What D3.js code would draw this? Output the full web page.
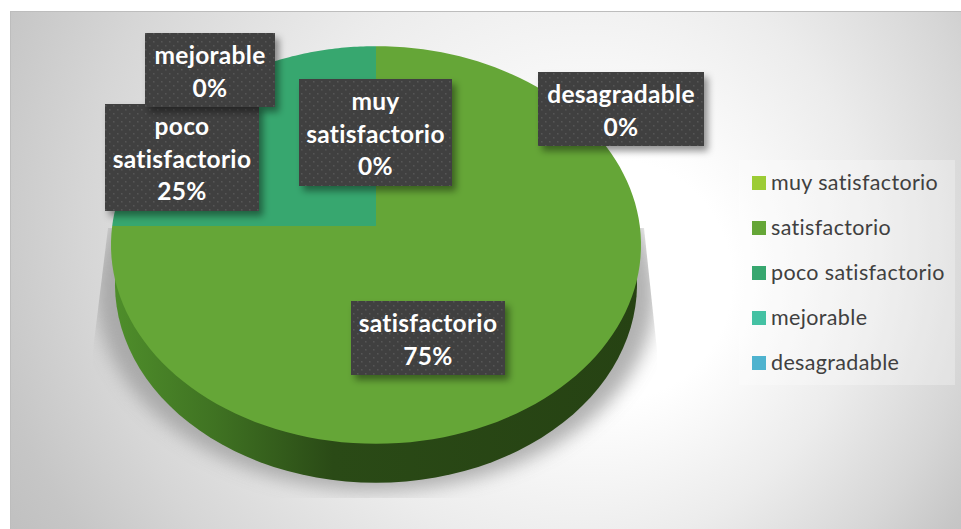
<!DOCTYPE html>
<html><head><meta charset="utf-8">
<script src="https://cdn.jsdelivr.net/npm/d3@7"></script>
<style>html,body{margin:0;padding:0;background:#fff;overflow:hidden}svg{display:block}</style>
</head><body><svg id="c" width="961" height="529"></svg>
<script>
const categories = ["muy satisfactorio","satisfactorio","poco satisfactorio","mejorable","desagradable"];
const shares = [0, 75, 25, 0, 0];
const colours = ["#9ccc35","#65a637","#37a76f","#44c1a3","#4eb3cf"];

const svg = d3.select("#c");
const defs = svg.append("defs");

// Tilted-disc projection: unit circle to screen
const cx = 376, cy = 226, k = 0.0955, ay = 197, bx = 263.8, depth = 39;
const project = (a, r = 1) => {
  const x = Math.sin(a) * r, y = -Math.cos(a) * r, f = 1 / (1 - k * y);
  return [cx + bx * x * f, cy + ay * y * f];
};
const rimPoints = (a0, a1) => d3.range(0, 121).map(i => project(a0 + (a1 - a0) * i / 120));
const line = d3.line();

// Chart panel background
const bg = defs.append("radialGradient").attr("id","bg").attr("gradientUnits","userSpaceOnUse")
  .attr("cx",500).attr("cy",200).attr("r",600).attr("fx",640).attr("fy",300);
[[0,"#ffffff"],[0.2,"#ffffff"],[0.5,"#ececec"],[0.75,"#d6d6d6"],[0.9,"#c6c6c6"],[1,"#bfbfbf"]].forEach(s=>bg.append("stop").attr("offset",s[0]).attr("stop-color",s[1]));
svg.append("rect").attr("x",10.5).attr("y",11.5).attr("width",951).attr("height",518)
  .attr("fill","url(#bg)").attr("stroke","#bdbdbd").attr("stroke-width",1);

// Soft floor shadow
defs.append("filter").attr("id","soft").attr("x","-20%").attr("y","-20%").attr("width","140%").attr("height","140%")
  .append("feGaussianBlur").attr("stdDeviation",9);
defs.append("clipPath").attr("id","floor").append("path").attr("d","M108,228L93,350L90,498L660,498L657,350L644,228Z");
svg.append("g").attr("clip-path","url(#floor)").append("path")
  .attr("d", line(rimPoints(0, 2*Math.PI).map(p=>[cx+(p[0]-cx)*1.055, p[1]+depth+8]))+"Z")
  .attr("fill","#9c9c9c").attr("opacity",0.78).attr("filter","url(#soft)");

// Rim of the disc
const side = defs.append("linearGradient").attr("id","side").attr("gradientUnits","userSpaceOnUse")
  .attr("x1",110).attr("x2",641).attr("y1",0).attr("y2",0);
[[0,"#4f8f2b"],[0.2,"#3f7222"],[0.42,"#2a4a16"],[1,"#264213"]].forEach(s=>side.append("stop").attr("offset",s[0]).attr("stop-color",s[1]));
svg.append("path")
  .attr("d", line(rimPoints(0, 2*Math.PI).map(p=>[cx+(p[0]-cx)*0.985,p[1]+depth]))+"Z")
  .attr("fill","url(#side)");

// Top face, built from d3.pie angles
const arcs = d3.pie().sort(null).value(d=>d)(shares);
svg.append("g").selectAll("path").data(arcs.filter(d=>d.value>0)).join("path")
  .attr("d", d => line([[cx,cy], ...rimPoints(d.startAngle, d.endAngle)])+"Z")
  .attr("fill", d => colours[d.index]);

// Legend
const legend = svg.append("g");
legend.append("rect").attr("x",739).attr("y",160).attr("width",216).attr("height",225).attr("fill","#fff").attr("fill-opacity",0.28);
const legendY = d3.scalePoint().domain(categories).range([183,363]);
categories.forEach((c,i)=>{
  legend.append("rect").attr("x",752).attr("y",legendY(c)-7).attr("width",14).attr("height",14).attr("fill",colours[i]);
  legend.append("text").attr("x",771).attr("y",legendY(c)+7).attr("font-family","Lato, 'Open Sans', sans-serif")
    .attr("font-size",21.5).attr("letter-spacing",0.35).attr("fill","#404040").text(c);
});

// Data callouts
const dots = defs.append("pattern").attr("id","dots").attr("width",8).attr("height",8).attr("patternUnits","userSpaceOnUse");
dots.append("rect").attr("width",8).attr("height",8).attr("fill","#404040");
dots.append("rect").attr("x",1).attr("y",1).attr("width",1.5).attr("height",1.5).attr("fill","#565656");
dots.append("rect").attr("x",5).attr("y",5).attr("width",1.5).attr("height",1.5).attr("fill","#565656");
const ds = defs.append("filter").attr("id","cast").attr("x","-15%").attr("y","-15%").attr("width","135%").attr("height","140%");
ds.append("feDropShadow").attr("dx",4).attr("dy",5).attr("stdDeviation",3.5).attr("flood-color","#000").attr("flood-opacity",0.42);

const calloutLayout = [
  {i:1, box:[351,301,154,74], lines:["satisfactorio"]},
  {i:4, box:[538,72,166,74], lines:["desagradable"]},
  {i:2, box:[105,104,154,107], lines:["poco","satisfactorio"]},
  {i:3, box:[145,33,130,74], lines:["mejorable"]},
  {i:0, box:[299,79,153,107], lines:["muy","satisfactorio"]}
];
calloutLayout.forEach(o=>{
  const [x,y,w,h] = o.box, g = svg.append("g");
  g.append("rect").attr("x",x).attr("y",y).attr("width",w).attr("height",h).attr("fill","url(#dots)").attr("filter","url(#cast)");
  const rows = [...o.lines, shares[o.i] + "%"];
  rows.forEach((t,j)=>{
    g.append("text").attr("x",x+w/2).attr("y",y+ h/2 + (j-(rows.length-1)/2)*32.5 + (rows.length === 2 ? 10.5 : 10))
      .attr("text-anchor","middle").attr("font-family","Lato, 'Open Sans', sans-serif")
      .attr("font-weight",700).attr("font-size",24.5).attr("letter-spacing",0.3).attr("fill","#fff").text(t);
  });
});
</script></body></html>
